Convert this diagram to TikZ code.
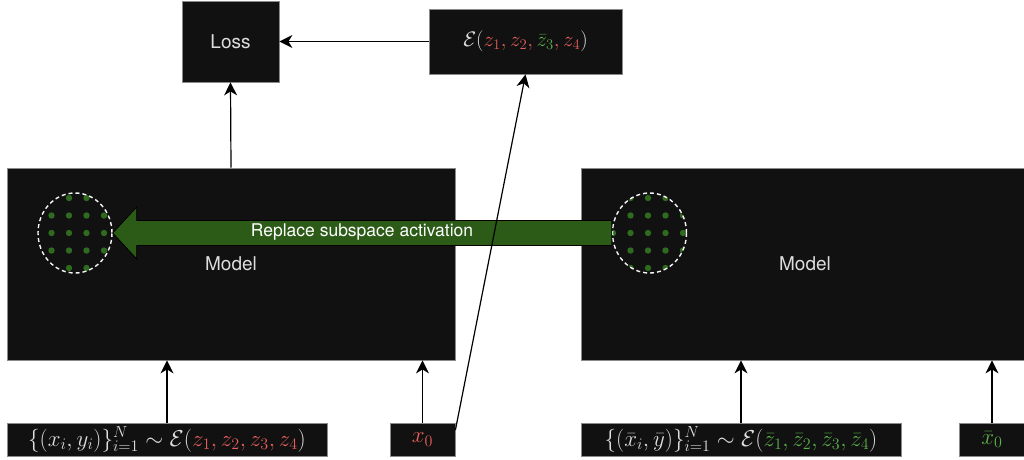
\RequirePackage{fix-cm}
\documentclass[tikz,border=0pt]{standalone}
\usepackage[no-math]{fontspec}
\setmainfont{TeX Gyre Heros}
\usetikzlibrary{arrows.meta, shapes.geometric, calc}

\definecolor{boxfill}{HTML}{111111}
\definecolor{boxline}{HTML}{8A8A8A}
\definecolor{txtgray}{HTML}{DEDEDE}
\definecolor{zred}{HTML}{E65F5C}
\definecolor{zgreen}{HTML}{5BB04A}
\definecolor{dotgreen}{HTML}{2E6B1F}
\definecolor{arrowgreen}{HTML}{2B5B17}

\tikzset{
    my-box/.style={
        draw=boxline, fill=boxfill, text=txtgray, line width=0.8pt, inner sep=0pt,
        font=\fontsize{19}{22}\selectfont
    },
    my-model/.style={
        my-box, minimum width=448pt, minimum height=192pt
    },
    my-input/.style={
        my-box, minimum height=33pt, font=\fontsize{23}{26}\selectfont
    },
    my-sub/.style={
        ellipse, draw=white!92!gray, dash pattern=on 4pt off 3pt, line width=1.4pt,
        minimum width=74pt, minimum height=80pt, inner sep=0pt
    },
    my-arrow/.style={
        -{Stealth[length=13pt, width=13pt, inset=4pt]}, line width=1.2pt
    },
}

\begin{document}
\begin{tikzpicture}[x=1pt, y=-1pt]

        \useasboundingbox (0,0) rectangle (1024,459);
        \clip (0,0) rectangle (1024,459);

        % TOP
        \node[my-box, minimum width=97pt, minimum height=81pt] (LOSS) at (230.5,41.5) {Loss};
        \node[my-box, minimum width=193pt, minimum height=65pt, font=\fontsize{21}{24}\selectfont]
            (ENC) at (525.5,41.5) {$\mathcal{E}(\color{zred}z_1, z_2, \color{zgreen}\bar{z}_3\color{zred}, z_4\color{txtgray})$};

        % MODELS
        \node[my-model] (MODELA) at (231,264) {Model};
        \node[my-model] (MODELB) at (805,264) {Model};

        % INPUTS
        \node[my-input, minimum width=320pt] (DATAA) at (167,439.5)
            {$\{(x_i, y_i)\}_{i=1}^N \sim \mathcal{E}(\color{zred}z_1, z_2, z_3, z_4\color{txtgray})$};
        \node[my-input, minimum width=65pt]  (XA)    at (422.5,439.5) {$\color{zred}x_0$};
        \node[my-input, minimum width=320pt] (DATAB) at (741,439.5)
            {$\{(\bar{x}_i, \bar{y})\}_{i=1}^N \sim \mathcal{E}(\color{zgreen}\bar{z}_1, \bar{z}_2, \bar{z}_3, \bar{z}_4\color{txtgray})$};
        \node[my-input, minimum width=65pt]  (XB)    at (992,439.5) {$\color{zgreen}\bar{x}_0$};

        % SUBSPACE DOTS
        \begin{scope}
            \clip (75,233) ellipse [x radius=37, y radius=40];
            \foreach \i in {-3,...,3}
                \foreach \j in {-2,...,2}
                    \fill[dotgreen] (69+17.5*\i, 233+17.5*\j) circle (3.2pt);
        \end{scope}
        \begin{scope}
            \clip (649.5,233) ellipse [x radius=37, y radius=40];
            \foreach \i in {-3,...,3}
                \foreach \j in {-2,...,2}
                    \fill[dotgreen] (648+17.5*\i, 233+17.5*\j) circle (3.2pt);
        \end{scope}
        \node[my-sub] (SUBA) at (75,233) {};
        \node[my-sub] (SUBB) at (649.5,233) {};

        % REPLACE ARROW
        \draw[fill=arrowgreen, draw=black, line width=0.8pt]
            (SUBA.east) -- ++(24,-26) -- ++(0,13.5) -- ($(SUBB.west)+(0,-12.5)$)
            -- ($(SUBB.west)+(0,12.5)$) -- ($(SUBA.east)+(24,12.5)$) -- ++(0,13.5) -- cycle;
        \node[text=white, font=\fontsize{17.5}{20}\selectfont] (REPL) at (362,232) {Replace subspace activation};

        % CONNECTIONS
        \draw[my-arrow] (ENC) -- (LOSS);
        \draw[my-arrow] (MODELA.north) -- (LOSS.south);
        \draw[my-arrow] (DATAA) -- (DATAA |- MODELA.south);
        \draw[my-arrow] (XA) -- (XA |- MODELA.south);
        \draw[my-arrow] (DATAB) -- (DATAB |- MODELB.south);
        \draw[my-arrow] (XB) -- (XB |- MODELB.south);
        \draw[my-arrow] (XA.16) -- (ENC.south);

\end{tikzpicture}
\end{document}
